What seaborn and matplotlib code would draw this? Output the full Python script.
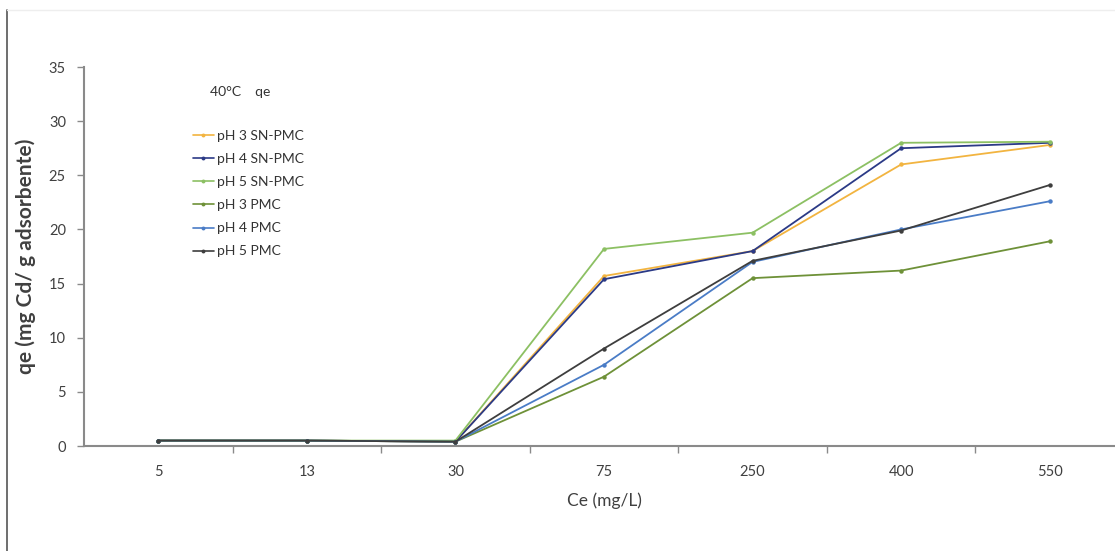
import matplotlib
matplotlib.use("Agg")
import matplotlib.pyplot as plt
import matplotlib.lines as mlines
import numpy as np
import pandas as pd
import seaborn as sns

# Equilibrium concentration categories (mg/L)
ce_labels = ["5", "13", "30", "75", "250", "400", "550"]

# Adsorption capacity qe (mg Cd / g adsorbent) at 40 °C
ph3_sn_pmc = [0.5, 0.5, 0.4, 15.7, 18.0, 26.0, 27.8]
ph4_sn_pmc = [0.5, 0.5, 0.4, 15.4, 18.0, 27.5, 28.0]
ph5_sn_pmc = [0.5, 0.5, 0.5, 18.2, 19.7, 28.0, 28.1]
ph3_pmc = [0.5, 0.5, 0.4, 6.4, 15.5, 16.2, 18.9]
ph4_pmc = [0.5, 0.5, 0.4, 7.5, 17.0, 20.0, 22.6]
ph5_pmc = [0.5, 0.5, 0.4, 9.0, 17.1, 19.9, 24.1]

series_names = ["pH 3 SN-PMC", "pH 4 SN-PMC", "pH 5 SN-PMC",
                "pH 3 PMC", "pH 4 PMC", "pH 5 PMC"]
series_values = [ph3_sn_pmc, ph4_sn_pmc, ph5_sn_pmc, ph3_pmc, ph4_pmc, ph5_pmc]
colors = ["#F2B440", "#2B3A86", "#8CC063", "#6E9138", "#4A7CC6", "#3E3E3E"]

rows = []
for name, vals in zip(series_names, series_values):
    for i, v in enumerate(vals):
        rows.append({"pos": i, "qe": v, "serie": name})
df = pd.DataFrame(rows)

sns.set_theme(style="white")
plt.rcParams["font.family"] = ["Lato", "DejaVu Sans"]

W, H = 1115, 551
fig = plt.figure(figsize=(W / 100, H / 100), dpi=100)
ax = fig.add_axes([84 / W, 1 - 446 / H, (1124 - 84) / W, (446 - 67) / H])

palette = dict(zip(series_names, colors))
sns.lineplot(data=df, x="pos", y="qe", hue="serie", hue_order=series_names,
             palette=palette, marker="o", markersize=3.2, markeredgewidth=0,
             linewidth=1.3, ax=ax, legend=False, zorder=3)

ax.set_xlim(-0.5, 6.5)
ax.set_ylim(0, 35)
ax.set_yticks(np.arange(0, 36, 5))
ax.set_xticks(range(len(ce_labels)))
ax.set_xticklabels(ce_labels)
ax.set_xticks(np.arange(0.5, 6.0, 1.0), minor=True)

grey = "#8a8a8a"
text_col = "#404040"
for side in ["top", "right"]:
    ax.spines[side].set_visible(False)
for side in ["left", "bottom"]:
    ax.spines[side].set_color(grey)
    ax.spines[side].set_linewidth(1.5)

ax.tick_params(axis="x", which="major", length=0, pad=14, labelsize=10.5, labelcolor=text_col)
ax.tick_params(axis="x", which="minor", length=5, width=1, color=grey, direction="out", bottom=True)
ax.tick_params(axis="y", which="major", length=5, width=1, color=grey, direction="out",
               left=True, pad=8, labelsize=10.5, labelcolor=text_col)

ax.set_xlabel("Ce (mg/L)", fontsize=12.5, color=text_col, labelpad=9)
ax.set_ylabel("qe (mg Cd/ g adsorbente)", fontsize=15, color=text_col,
              fontweight="bold", labelpad=9)

# Legend block in the upper left of the plot area
fig.text(240 / W, 1 - 92 / H, "40°C    qe", fontsize=10, color="#333333",
         ha="center", va="center")
handles = [mlines.Line2D([], [], color=c, marker="o", markersize=2.8,
                         markeredgewidth=0, linewidth=1.2) for c in colors]
leg = ax.legend(handles, series_names, loc="upper left",
                bbox_to_anchor=(186 / W, 1 - 123 / H), bbox_transform=fig.transFigure,
                frameon=False, fontsize=10, handlelength=1.5, handletextpad=0.2,
                labelspacing=0.8, borderpad=0)
for t in leg.get_texts():
    t.set_color("#333333")

# Thin frame line along the left and top of the figure
fig.add_artist(mlines.Line2D([7 / W, 7 / W], [0, 1 - 10 / H], transform=fig.transFigure,
                             color="#555555", linewidth=1.2))
fig.add_artist(mlines.Line2D([7 / W, 1], [1 - 10 / H, 1 - 10 / H], transform=fig.transFigure,
                             color="#eeeeee", linewidth=1))

fig.savefig("out.png", dpi=100)
